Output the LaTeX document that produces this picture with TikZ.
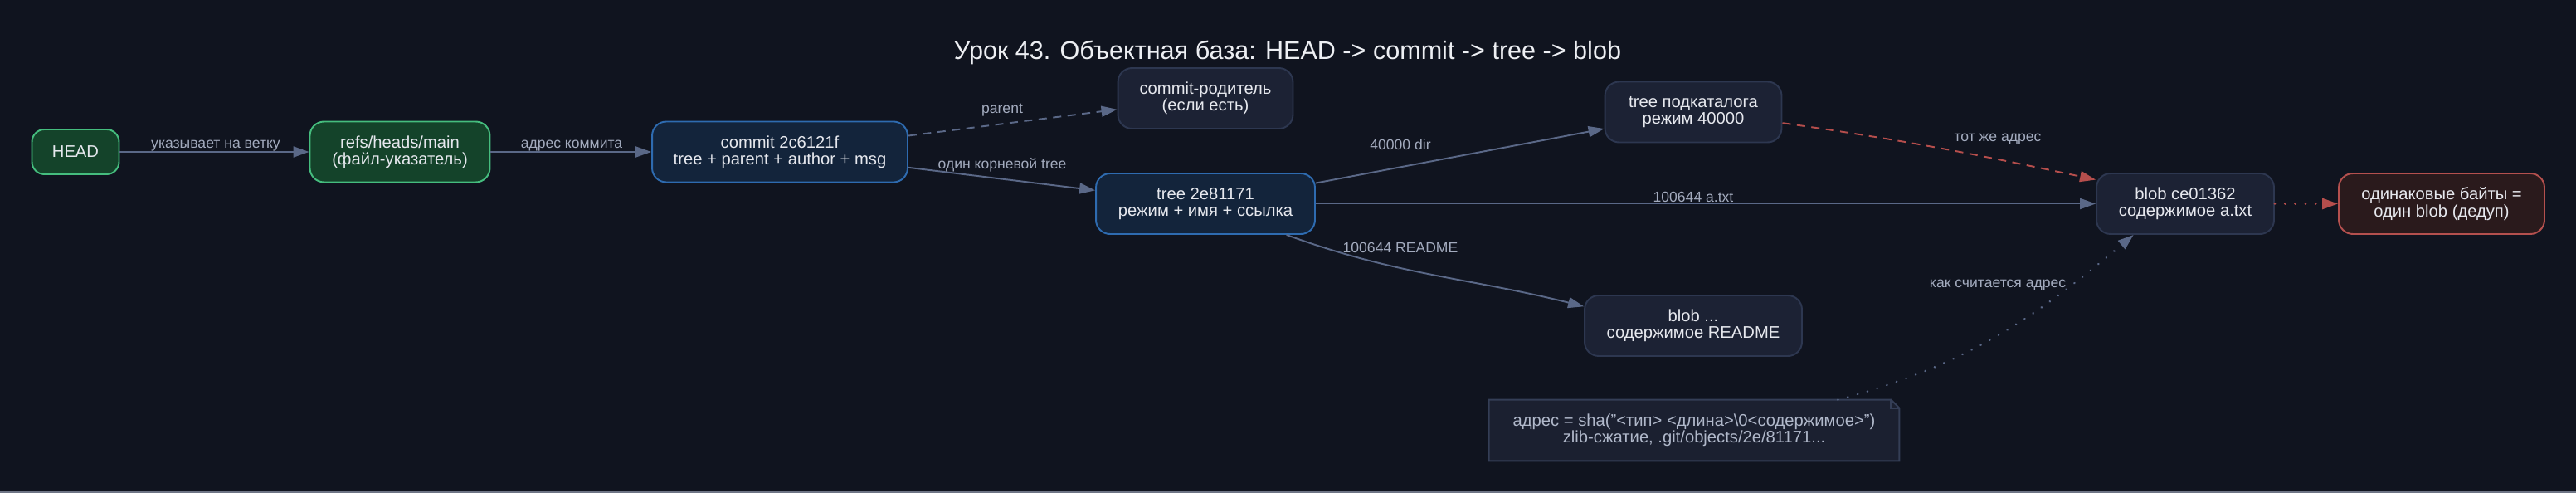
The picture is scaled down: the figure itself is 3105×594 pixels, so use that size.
\documentclass[tikz,border=0pt]{standalone}
\usepackage{fontspec}
\setmainfont{Liberation Sans}
\usepackage{xcolor}
\usetikzlibrary{arrows.meta, positioning, backgrounds}

\definecolor{canvas}{HTML}{10141F}
\definecolor{bottomline}{HTML}{6E7585}
\definecolor{headfill}{HTML}{14432A}
\definecolor{headdraw}{HTML}{45BD7E}
\definecolor{objfill}{HTML}{13243B}
\definecolor{objdraw}{HTML}{2E6BB0}
\definecolor{plainfill}{HTML}{1C2234}
\definecolor{plaindraw}{HTML}{2D3750}
\definecolor{dedupfill}{HTML}{2A1A1C}
\definecolor{dedupdraw}{HTML}{B4504E}
\definecolor{notefill}{HTML}{1B2030}
\definecolor{notedraw}{HTML}{343E56}
\definecolor{nodetext}{HTML}{E6E8EE}
\definecolor{labeltext}{HTML}{A3ABBE}
\definecolor{notetext}{HTML}{B0B8CA}
\definecolor{edgecol}{HTML}{5A6887}
\definecolor{redcol}{HTML}{B54E4C}
\definecolor{titletext}{HTML}{EDEFF3}

\begin{document}
\begin{tikzpicture}[
    x=0.02cm, y=-0.02cm,
    box/.style={rounded corners=0.34cm, align=center, inner sep=0pt, minimum height=1.46cm, line width=1.1pt, text=nodetext, font=\fontsize{11.5}{11.6}\selectfont},
    refbox/.style={box, fill=headfill, draw=headdraw},
    objbox/.style={box, fill=objfill, draw=objdraw},
    plainbox/.style={box, fill=plainfill, draw=plaindraw},
    dedupbox/.style={box, fill=dedupfill, draw=dedupdraw},
    notebox/.style={align=center, inner sep=0pt, minimum width=9.88cm, minimum height=1.46cm, text=notetext, font=\fontsize{11.5}{11.6}\selectfont},
    title/.style={inner sep=0pt, text=titletext, font=\fontsize{17.4}{17.4}\selectfont},
    edgelabel/.style={inner sep=0pt, text=labeltext, font=\fontsize{10}{10}\selectfont},
    arrow/.style={-{Triangle[length=0.38cm, width=0.26cm]}, line width=1.1pt, edgecol},
    dasharrow/.style={arrow, dash pattern=on 5.7pt off 4.3pt},
    dotarrow/.style={arrow, line cap=round, dash pattern=on 0.01pt off 7pt, line width=1.6pt},
    redarrow/.style={arrow, redcol},
    reddasharrow/.style={redarrow, dash pattern=on 5.7pt off 4.3pt},
    reddotarrow/.style={redarrow, line cap=round, dash pattern=on 0.01pt off 7pt, line width=1.6pt}
]
    \useasboundingbox (0,0) rectangle (3105,594);

    \node[title] (title) at (1552, 63) {Урок 43. Объектная база: HEAD -> commit -> tree -> blob};

    % Pointer chain and commit.
    \node[refbox, minimum width=2.1cm, minimum height=1.08cm, rounded corners=0.3cm] (head) at (91, 183) {HEAD};
    \node[refbox, minimum width=4.34cm] (refs) at (482, 183) {refs/heads/main\\(файл-указатель)};
    \node[objbox, minimum width=6.16cm] (commit) at (940, 183) {commit 2c6121f\\tree + parent + author + msg};
    \node[plainbox, minimum width=4.22cm] (parent) at (1453, 118.5) {commit-родитель\\(если есть)};
    \node[objbox, minimum width=5.28cm] (tree) at (1453, 245.5) {tree 2e81171\\режим + имя + ссылка};

    % Objects below the root tree.
    \node[plainbox, minimum width=4.26cm] (sub) at (2041, 135) {tree подкаталога\\режим 40000};
    \node[plainbox, minimum width=5.24cm] (blobr) at (2041, 392.5) {blob ...\\содержимое README};
    \node[notebox] (note) at (2042, 518.5) {адрес = sha("<тип> <длина>\textbackslash 0<содержимое>")\\zlib-сжатие, .git/objects/2e/81171...};
    \node[plainbox, minimum width=4.28cm] (blobc) at (2634, 245.5) {blob ce01362\\содержимое a.txt};
    \node[dedupbox, minimum width=4.96cm] (dedup) at (2943, 245.5) {одинаковые байты =\\один blob (дедуп)};

    \draw[arrow] (head) -- (refs);
    \draw[arrow] (refs) -- (commit);
    \draw[dasharrow] (commit) -- (parent);
    \draw[arrow] (commit) -- (tree);
    \draw[arrow] (tree) -- (sub);
    \draw[arrow] (tree) -- (blobc);
    \draw[arrow] (tree.-21) to[out=-20, in=166] (blobr.170);
    \draw[reddasharrow] (sub.-7) to[out=-8, in=168] (blobc.165);
    \draw[reddotarrow] (blobc) -- (dedup);
    \draw[dotarrow] (note.12) to[out=15, in=220] (blobc.-149);

    \node[edgelabel] (lhead) at (260, 176) {указывает на ветку};
    \node[edgelabel] (lrefs) at (689, 176) {адрес коммита};
    \node[edgelabel] (lparent) at (1208, 133) {parent};
    \node[edgelabel] (lroot) at (1208, 199) {один корневой tree};
    \node[edgelabel] (ldir) at (1688, 174) {40000 dir};
    \node[edgelabel] (latxt) at (2041, 237) {100644 a.txt};
    \node[edgelabel] (lreadme) at (1688, 298) {100644 README};
    \node[edgelabel] (lsame) at (2408, 168) {тот же адрес};
    \node[edgelabel] (lhow) at (2408, 344) {как считается адрес};

    % Canvas and the note outline with its folded corner.
    \begin{scope}[on background layer]
        \fill[canvas] (0,0) rectangle (3105,594);
        \draw[bottomline, line width=0.04cm] (0,593) -- (3105,593);
        \filldraw[fill=notefill, draw=notedraw, line width=1.1pt] (note.north west) -- ([xshift=-0.2cm]note.north east) -- ([yshift=-0.2cm]note.north east) -- (note.south east) -- (note.south west) -- cycle;
        \draw[notedraw, line width=1.1pt] ([xshift=-0.2cm]note.north east) -- ([xshift=-0.2cm, yshift=-0.2cm]note.north east) -- ([yshift=-0.2cm]note.north east);
    \end{scope}
\end{tikzpicture}
\end{document}
